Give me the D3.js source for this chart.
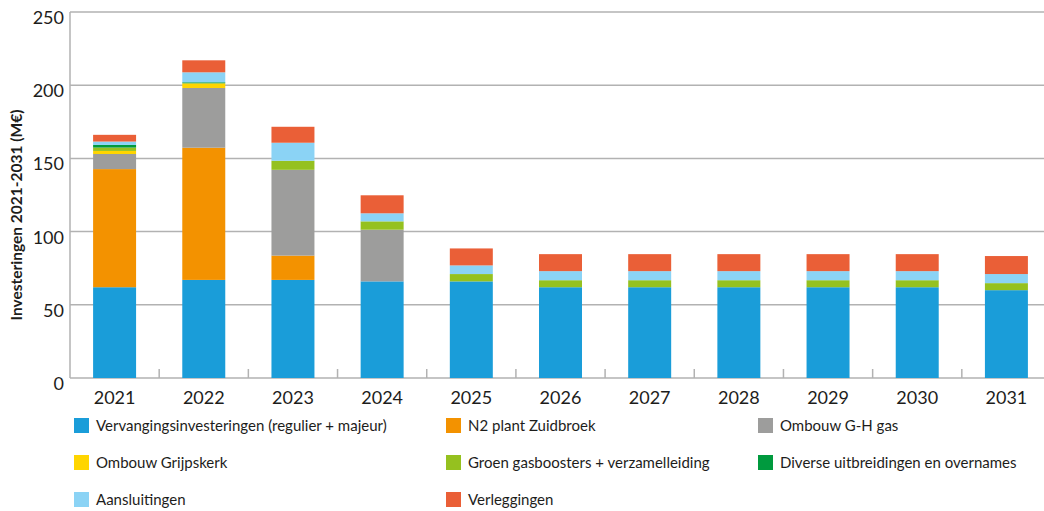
<!DOCTYPE html>
<style>
body { margin: 0; background: #fff; }
text { font-family: Lato, "Noto Sans", sans-serif; fill: #1d1d1b; }
</style>
<body></body>
<script src="https://d3js.org/d3.v7.min.js"></script>
<script>
const years = ['2021', '2022', '2023', '2024', '2025', '2026', '2027', '2028', '2029', '2030', '2031']
const yTicks = [0, 50, 100, 150, 200, 250]

const seriesNames = [
    'Vervangingsinvesteringen (regulier + majeur)',
    'N2 plant Zuidbroek',
    'Ombouw G-H gas',
    'Ombouw Grijpskerk',
    'Groen gasboosters + verzamelleiding',
    'Diverse uitbreidingen en overnames',
    'Aansluitingen',
    'Verleggingen'
]
const seriesColors = ['#1a9dd9', '#f39200', '#9d9d9c', '#ffd500', '#95c11f', '#009a3e', '#8bd3f5', '#ea5f37']

const vervanging = [62, 67, 67, 66, 66, 62, 62, 62, 62, 62, 60]
const n2Plant = [80.7, 90.3, 16.6, 0, 0, 0, 0, 0, 0, 0, 0]
const ombouwGH = [10.3, 40.8, 58.6, 35.3, 0, 0, 0, 0, 0, 0, 0]
const grijpskerk = [2.1, 3.2, 0, 0, 0, 0, 0, 0, 0, 0, 0]
const groenGas = [2.3, 0, 6.2, 5.7, 5.0, 4.8, 4.8, 4.8, 4.8, 4.8, 4.8]
const diverse = [1.8, 0.7, 0, 0, 0, 0, 0, 0, 0, 0, 0]
const aansluitingen = [2.3, 6.8, 12.3, 5.5, 5.9, 6.2, 6.2, 6.2, 6.2, 6.2, 6.2]
const verleggingen = [4.6, 8.2, 10.9, 12.3, 11.6, 11.6, 11.6, 11.6, 11.6, 11.6, 12.3]

const seriesValues = [vervanging, n2Plant, ombouwGH, grijpskerk, groenGas, diverse, aansluitingen, verleggingen]

// legend layout: rows of three
const legendOrder = [[0, 1, 2], [3, 4, 5], [6, 7]]

const width = 1044
const height = 511
const plot = { left: 70, right: 1051, top: 12, bottom: 378 }

const svg = d3.select('body').append('svg')
    .attr('width', width)
    .attr('height', height)

const table = years.map((year, i) => {
    const row = { year }
    seriesNames.forEach((name, s) => { row[name] = seriesValues[s][i] })
    return row
})

const stacked = d3.stack().keys(seriesNames)(table)

const x = d3.scaleBand()
    .domain(years)
    .range([plot.left, plot.right])
    .paddingInner(0.518)
    .paddingOuter(0.259)

const y = d3.scaleLinear()
    .domain([0, 250])
    .range([plot.bottom, plot.top])

// gridlines
svg.append('g')
    .selectAll('line')
    .data(yTicks)
    .join('line')
        .attr('x1', plot.left)
        .attr('x2', width)
        .attr('y1', d => y(d))
        .attr('y2', d => y(d))
        .attr('stroke', '#b2b2b2')
        .attr('stroke-width', 1.5)

// y axis line
svg.append('line')
    .attr('x1', plot.left).attr('x2', plot.left)
    .attr('y1', y(250)).attr('y2', y(0))
    .attr('stroke', '#b2b2b2')
    .attr('stroke-width', 1.5)

// small ticks between categories
const step = x.step()
svg.append('g')
    .selectAll('line')
    .data(years.slice(0, -1))
    .join('line')
        .attr('x1', d => x(d) + x.bandwidth() + (step - x.bandwidth()) / 2)
        .attr('x2', d => x(d) + x.bandwidth() + (step - x.bandwidth()) / 2)
        .attr('y1', y(0) - 9)
        .attr('y2', y(0))
        .attr('stroke', '#b2b2b2')
        .attr('stroke-width', 1.5)

// bars
svg.append('g')
    .selectAll('g')
    .data(stacked)
    .join('g')
        .attr('fill', (d, i) => seriesColors[i])
    .selectAll('rect')
    .data(d => d)
    .join('rect')
        .attr('x', d => x(d.data.year))
        .attr('y', d => y(d[1]))
        .attr('width', x.bandwidth())
        .attr('height', d => y(d[0]) - y(d[1]))

// y tick labels
svg.append('g')
    .selectAll('text')
    .data(yTicks)
    .join('text')
        .attr('x', plot.left - 6)
        .attr('y', d => y(d) + 12)
        .attr('text-anchor', 'end')
        .attr('font-size', 18)
        .text(d => d)

// x labels
svg.append('g')
    .selectAll('text')
    .data(years)
    .join('text')
        .attr('x', d => x(d) + x.bandwidth() / 2)
        .attr('y', 404)
        .attr('text-anchor', 'middle')
        .attr('font-size', 18)
        .text(d => d)

// y title
svg.append('text')
    .attr('transform', `translate(22, ${(plot.top + plot.bottom) / 2 + 20}) rotate(-90)`)
    .attr('text-anchor', 'middle')
    .attr('font-size', 15.5)
    .attr('font-weight', 'bold')
    .text('Investeringen 2021-2031 (M€)')

// legend
const colX = [74, 446, 758]
const rowY = [418, 455, 492]
legendOrder.forEach((row, r) => {
    row.forEach((s, c) => {
        const g = svg.append('g').attr('transform', `translate(${colX[c]}, ${rowY[r]})`)
        g.append('rect')
            .attr('width', 15)
            .attr('height', 15)
            .attr('fill', seriesColors[s])
        g.append('text')
            .attr('x', 22)
            .attr('y', 13)
            .attr('font-size', 15)
            .text(seriesNames[s])
    })
})
</script>
